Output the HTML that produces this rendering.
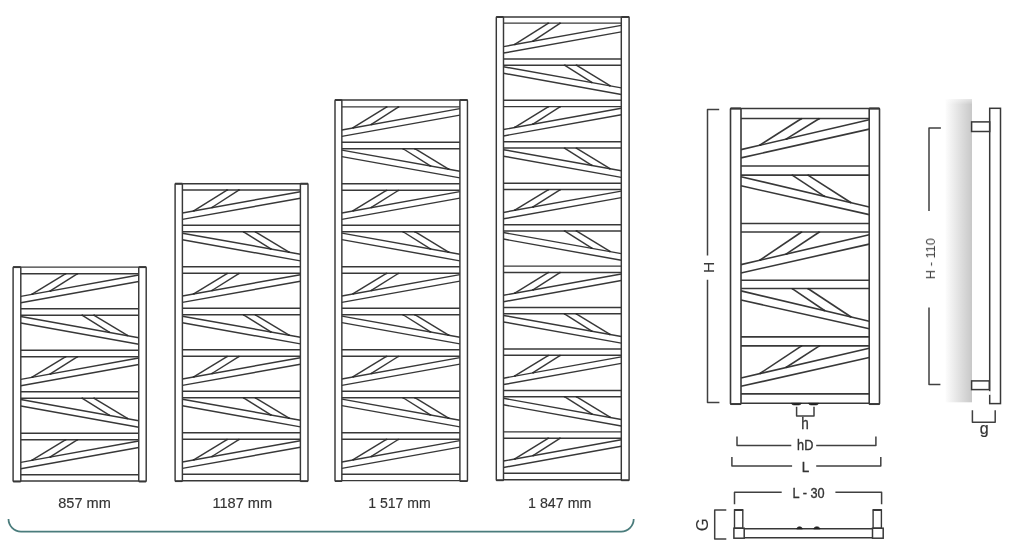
<!DOCTYPE html>
<html><head><meta charset="utf-8"><style>
html,body{margin:0;padding:0;background:#fff;width:1025px;height:552px;overflow:hidden}
svg{display:block}
text{font-family:"Liberation Sans",sans-serif}
</style></head><body>
<svg width="1025" height="552" viewBox="0 0 1025 552">
<line x1="20.8" y1="267.1" x2="138.75" y2="267.1" stroke="#383838" stroke-width="1.45"/>
<line x1="20.8" y1="273.7" x2="138.75" y2="273.7" stroke="#383838" stroke-width="1.45"/>
<line x1="20.8" y1="308.67" x2="138.75" y2="308.67" stroke="#383838" stroke-width="1.45"/>
<line x1="20.8" y1="315.17" x2="138.75" y2="315.17" stroke="#383838" stroke-width="1.45"/>
<line x1="20.8" y1="350.17" x2="138.75" y2="350.17" stroke="#383838" stroke-width="1.45"/>
<line x1="20.8" y1="356.67" x2="138.75" y2="356.67" stroke="#383838" stroke-width="1.45"/>
<line x1="20.8" y1="391.67" x2="138.75" y2="391.67" stroke="#383838" stroke-width="1.45"/>
<line x1="20.8" y1="398.17" x2="138.75" y2="398.17" stroke="#383838" stroke-width="1.45"/>
<line x1="20.8" y1="433.17" x2="138.75" y2="433.17" stroke="#383838" stroke-width="1.45"/>
<line x1="20.8" y1="439.67" x2="138.75" y2="439.67" stroke="#383838" stroke-width="1.45"/>
<line x1="20.8" y1="474.67" x2="138.75" y2="474.67" stroke="#383838" stroke-width="1.45"/>
<line x1="20.8" y1="480.92" x2="138.75" y2="480.92" stroke="#383838" stroke-width="1.45"/>
<line x1="20.8" y1="296.37" x2="138.75" y2="275.07" stroke="#383838" stroke-width="1.45"/>
<line x1="20.8" y1="302.77" x2="138.75" y2="281.57" stroke="#383838" stroke-width="1.45"/>
<line x1="31.7" y1="294.4" x2="65.8" y2="273.7" stroke="#383838" stroke-width="1.45"/>
<ellipse cx="32.3" cy="294.2" rx="1.2" ry="0.75" fill="#2a2a2a"/>
<ellipse cx="65.5" cy="273.85" rx="1.2" ry="0.75" fill="#2a2a2a"/>
<line x1="49.9" y1="291.11" x2="77.6" y2="273.7" stroke="#383838" stroke-width="1.45"/>
<ellipse cx="50.5" cy="290.91" rx="1.2" ry="0.75" fill="#2a2a2a"/>
<ellipse cx="77.3" cy="273.85" rx="1.2" ry="0.75" fill="#2a2a2a"/>
<line x1="20.8" y1="316.57" x2="138.75" y2="337.67" stroke="#383838" stroke-width="1.45"/>
<line x1="20.8" y1="323.07" x2="138.75" y2="344.27" stroke="#383838" stroke-width="1.45"/>
<line x1="127.85" y1="335.72" x2="93.75" y2="315.17" stroke="#383838" stroke-width="1.45"/>
<ellipse cx="127.25" cy="335.52" rx="1.2" ry="0.75" fill="#2a2a2a"/>
<ellipse cx="94.05" cy="315.32" rx="1.2" ry="0.75" fill="#2a2a2a"/>
<line x1="109.65" y1="332.46" x2="81.95" y2="315.17" stroke="#383838" stroke-width="1.45"/>
<ellipse cx="109.05" cy="332.26" rx="1.2" ry="0.75" fill="#2a2a2a"/>
<ellipse cx="82.25" cy="315.32" rx="1.2" ry="0.75" fill="#2a2a2a"/>
<line x1="20.8" y1="379.37" x2="138.75" y2="358.07" stroke="#383838" stroke-width="1.45"/>
<line x1="20.8" y1="385.77" x2="138.75" y2="364.57" stroke="#383838" stroke-width="1.45"/>
<line x1="31.7" y1="377.4" x2="65.8" y2="356.67" stroke="#383838" stroke-width="1.45"/>
<ellipse cx="32.3" cy="377.2" rx="1.2" ry="0.75" fill="#2a2a2a"/>
<ellipse cx="65.5" cy="356.82" rx="1.2" ry="0.75" fill="#2a2a2a"/>
<line x1="49.9" y1="374.11" x2="77.6" y2="356.67" stroke="#383838" stroke-width="1.45"/>
<ellipse cx="50.5" cy="373.91" rx="1.2" ry="0.75" fill="#2a2a2a"/>
<ellipse cx="77.3" cy="356.82" rx="1.2" ry="0.75" fill="#2a2a2a"/>
<line x1="20.8" y1="399.57" x2="138.75" y2="420.67" stroke="#383838" stroke-width="1.45"/>
<line x1="20.8" y1="406.07" x2="138.75" y2="427.27" stroke="#383838" stroke-width="1.45"/>
<line x1="127.85" y1="418.72" x2="93.75" y2="398.17" stroke="#383838" stroke-width="1.45"/>
<ellipse cx="127.25" cy="418.52" rx="1.2" ry="0.75" fill="#2a2a2a"/>
<ellipse cx="94.05" cy="398.32" rx="1.2" ry="0.75" fill="#2a2a2a"/>
<line x1="109.65" y1="415.46" x2="81.95" y2="398.17" stroke="#383838" stroke-width="1.45"/>
<ellipse cx="109.05" cy="415.26" rx="1.2" ry="0.75" fill="#2a2a2a"/>
<ellipse cx="82.25" cy="398.32" rx="1.2" ry="0.75" fill="#2a2a2a"/>
<line x1="20.8" y1="462.37" x2="138.75" y2="441.07" stroke="#383838" stroke-width="1.45"/>
<line x1="20.8" y1="468.77" x2="138.75" y2="447.57" stroke="#383838" stroke-width="1.45"/>
<line x1="31.7" y1="460.4" x2="65.8" y2="439.67" stroke="#383838" stroke-width="1.45"/>
<ellipse cx="32.3" cy="460.2" rx="1.2" ry="0.75" fill="#2a2a2a"/>
<ellipse cx="65.5" cy="439.82" rx="1.2" ry="0.75" fill="#2a2a2a"/>
<line x1="49.9" y1="457.11" x2="77.6" y2="439.67" stroke="#383838" stroke-width="1.45"/>
<ellipse cx="50.5" cy="456.91" rx="1.2" ry="0.75" fill="#2a2a2a"/>
<ellipse cx="77.3" cy="439.82" rx="1.2" ry="0.75" fill="#2a2a2a"/>
<rect x="13.1" y="267.1" width="7.7" height="214.32" rx="0.6" fill="none" stroke="#383838" stroke-width="1.45"/>
<rect x="138.75" y="267.1" width="7.45" height="214.32" rx="0.6" fill="none" stroke="#383838" stroke-width="1.45"/>
<line x1="13.1" y1="267.1" x2="20.8" y2="267.1" stroke="#383838" stroke-width="1.95"/>
<line x1="138.75" y1="267.1" x2="146.2" y2="267.1" stroke="#383838" stroke-width="1.95"/>
<line x1="13.1" y1="481.42" x2="20.8" y2="481.42" stroke="#383838" stroke-width="1.75"/>
<line x1="138.75" y1="481.42" x2="146.2" y2="481.42" stroke="#383838" stroke-width="1.75"/>
<line x1="182.4" y1="183.7" x2="300.4" y2="183.7" stroke="#383838" stroke-width="1.45"/>
<line x1="182.4" y1="189.9" x2="300.4" y2="189.9" stroke="#383838" stroke-width="1.45"/>
<line x1="182.4" y1="225.3" x2="300.4" y2="225.3" stroke="#383838" stroke-width="1.45"/>
<line x1="182.4" y1="231.8" x2="300.4" y2="231.8" stroke="#383838" stroke-width="1.45"/>
<line x1="182.4" y1="266.8" x2="300.4" y2="266.8" stroke="#383838" stroke-width="1.45"/>
<line x1="182.4" y1="273.3" x2="300.4" y2="273.3" stroke="#383838" stroke-width="1.45"/>
<line x1="182.4" y1="308.3" x2="300.4" y2="308.3" stroke="#383838" stroke-width="1.45"/>
<line x1="182.4" y1="314.8" x2="300.4" y2="314.8" stroke="#383838" stroke-width="1.45"/>
<line x1="182.4" y1="349.8" x2="300.4" y2="349.8" stroke="#383838" stroke-width="1.45"/>
<line x1="182.4" y1="356.3" x2="300.4" y2="356.3" stroke="#383838" stroke-width="1.45"/>
<line x1="182.4" y1="391.3" x2="300.4" y2="391.3" stroke="#383838" stroke-width="1.45"/>
<line x1="182.4" y1="397.8" x2="300.4" y2="397.8" stroke="#383838" stroke-width="1.45"/>
<line x1="182.4" y1="432.8" x2="300.4" y2="432.8" stroke="#383838" stroke-width="1.45"/>
<line x1="182.4" y1="439.3" x2="300.4" y2="439.3" stroke="#383838" stroke-width="1.45"/>
<line x1="182.4" y1="474.3" x2="300.4" y2="474.3" stroke="#383838" stroke-width="1.45"/>
<line x1="182.4" y1="480.7" x2="300.4" y2="480.7" stroke="#383838" stroke-width="1.45"/>
<line x1="182.4" y1="213" x2="300.4" y2="191.7" stroke="#383838" stroke-width="1.45"/>
<line x1="182.4" y1="219.4" x2="300.4" y2="198.2" stroke="#383838" stroke-width="1.45"/>
<line x1="193.3" y1="211.03" x2="227.4" y2="189.9" stroke="#383838" stroke-width="1.45"/>
<ellipse cx="193.9" cy="210.83" rx="1.2" ry="0.75" fill="#2a2a2a"/>
<ellipse cx="227.1" cy="190.05" rx="1.2" ry="0.75" fill="#2a2a2a"/>
<line x1="211.5" y1="207.75" x2="239.2" y2="189.9" stroke="#383838" stroke-width="1.45"/>
<ellipse cx="212.1" cy="207.55" rx="1.2" ry="0.75" fill="#2a2a2a"/>
<ellipse cx="238.9" cy="190.05" rx="1.2" ry="0.75" fill="#2a2a2a"/>
<line x1="182.4" y1="233.2" x2="300.4" y2="254.3" stroke="#383838" stroke-width="1.45"/>
<line x1="182.4" y1="239.7" x2="300.4" y2="260.9" stroke="#383838" stroke-width="1.45"/>
<line x1="289.5" y1="252.35" x2="255.4" y2="231.8" stroke="#383838" stroke-width="1.45"/>
<ellipse cx="288.9" cy="252.15" rx="1.2" ry="0.75" fill="#2a2a2a"/>
<ellipse cx="255.7" cy="231.95" rx="1.2" ry="0.75" fill="#2a2a2a"/>
<line x1="271.3" y1="249.1" x2="243.6" y2="231.8" stroke="#383838" stroke-width="1.45"/>
<ellipse cx="270.7" cy="248.9" rx="1.2" ry="0.75" fill="#2a2a2a"/>
<ellipse cx="243.9" cy="231.95" rx="1.2" ry="0.75" fill="#2a2a2a"/>
<line x1="182.4" y1="296" x2="300.4" y2="274.7" stroke="#383838" stroke-width="1.45"/>
<line x1="182.4" y1="302.4" x2="300.4" y2="281.2" stroke="#383838" stroke-width="1.45"/>
<line x1="193.3" y1="294.03" x2="227.4" y2="273.3" stroke="#383838" stroke-width="1.45"/>
<ellipse cx="193.9" cy="293.83" rx="1.2" ry="0.75" fill="#2a2a2a"/>
<ellipse cx="227.1" cy="273.45" rx="1.2" ry="0.75" fill="#2a2a2a"/>
<line x1="211.5" y1="290.75" x2="239.2" y2="273.3" stroke="#383838" stroke-width="1.45"/>
<ellipse cx="212.1" cy="290.55" rx="1.2" ry="0.75" fill="#2a2a2a"/>
<ellipse cx="238.9" cy="273.45" rx="1.2" ry="0.75" fill="#2a2a2a"/>
<line x1="182.4" y1="316.2" x2="300.4" y2="337.3" stroke="#383838" stroke-width="1.45"/>
<line x1="182.4" y1="322.7" x2="300.4" y2="343.9" stroke="#383838" stroke-width="1.45"/>
<line x1="289.5" y1="335.35" x2="255.4" y2="314.8" stroke="#383838" stroke-width="1.45"/>
<ellipse cx="288.9" cy="335.15" rx="1.2" ry="0.75" fill="#2a2a2a"/>
<ellipse cx="255.7" cy="314.95" rx="1.2" ry="0.75" fill="#2a2a2a"/>
<line x1="271.3" y1="332.1" x2="243.6" y2="314.8" stroke="#383838" stroke-width="1.45"/>
<ellipse cx="270.7" cy="331.9" rx="1.2" ry="0.75" fill="#2a2a2a"/>
<ellipse cx="243.9" cy="314.95" rx="1.2" ry="0.75" fill="#2a2a2a"/>
<line x1="182.4" y1="379" x2="300.4" y2="357.7" stroke="#383838" stroke-width="1.45"/>
<line x1="182.4" y1="385.4" x2="300.4" y2="364.2" stroke="#383838" stroke-width="1.45"/>
<line x1="193.3" y1="377.03" x2="227.4" y2="356.3" stroke="#383838" stroke-width="1.45"/>
<ellipse cx="193.9" cy="376.83" rx="1.2" ry="0.75" fill="#2a2a2a"/>
<ellipse cx="227.1" cy="356.45" rx="1.2" ry="0.75" fill="#2a2a2a"/>
<line x1="211.5" y1="373.75" x2="239.2" y2="356.3" stroke="#383838" stroke-width="1.45"/>
<ellipse cx="212.1" cy="373.55" rx="1.2" ry="0.75" fill="#2a2a2a"/>
<ellipse cx="238.9" cy="356.45" rx="1.2" ry="0.75" fill="#2a2a2a"/>
<line x1="182.4" y1="399.2" x2="300.4" y2="420.3" stroke="#383838" stroke-width="1.45"/>
<line x1="182.4" y1="405.7" x2="300.4" y2="426.9" stroke="#383838" stroke-width="1.45"/>
<line x1="289.5" y1="418.35" x2="255.4" y2="397.8" stroke="#383838" stroke-width="1.45"/>
<ellipse cx="288.9" cy="418.15" rx="1.2" ry="0.75" fill="#2a2a2a"/>
<ellipse cx="255.7" cy="397.95" rx="1.2" ry="0.75" fill="#2a2a2a"/>
<line x1="271.3" y1="415.1" x2="243.6" y2="397.8" stroke="#383838" stroke-width="1.45"/>
<ellipse cx="270.7" cy="414.9" rx="1.2" ry="0.75" fill="#2a2a2a"/>
<ellipse cx="243.9" cy="397.95" rx="1.2" ry="0.75" fill="#2a2a2a"/>
<line x1="182.4" y1="462" x2="300.4" y2="440.7" stroke="#383838" stroke-width="1.45"/>
<line x1="182.4" y1="468.4" x2="300.4" y2="447.2" stroke="#383838" stroke-width="1.45"/>
<line x1="193.3" y1="460.03" x2="227.4" y2="439.3" stroke="#383838" stroke-width="1.45"/>
<ellipse cx="193.9" cy="459.83" rx="1.2" ry="0.75" fill="#2a2a2a"/>
<ellipse cx="227.1" cy="439.45" rx="1.2" ry="0.75" fill="#2a2a2a"/>
<line x1="211.5" y1="456.75" x2="239.2" y2="439.3" stroke="#383838" stroke-width="1.45"/>
<ellipse cx="212.1" cy="456.55" rx="1.2" ry="0.75" fill="#2a2a2a"/>
<ellipse cx="238.9" cy="439.45" rx="1.2" ry="0.75" fill="#2a2a2a"/>
<rect x="175.1" y="183.7" width="7.3" height="297.5" rx="0.6" fill="none" stroke="#383838" stroke-width="1.45"/>
<rect x="300.4" y="183.7" width="7.6" height="297.5" rx="0.6" fill="none" stroke="#383838" stroke-width="1.45"/>
<line x1="175.1" y1="183.7" x2="182.4" y2="183.7" stroke="#383838" stroke-width="1.95"/>
<line x1="300.4" y1="183.7" x2="308" y2="183.7" stroke="#383838" stroke-width="1.95"/>
<line x1="175.1" y1="481.2" x2="182.4" y2="481.2" stroke="#383838" stroke-width="1.75"/>
<line x1="300.4" y1="481.2" x2="308" y2="481.2" stroke="#383838" stroke-width="1.75"/>
<line x1="341.85" y1="100.05" x2="459.9" y2="100.05" stroke="#383838" stroke-width="1.45"/>
<line x1="341.85" y1="106.85" x2="459.9" y2="106.85" stroke="#383838" stroke-width="1.45"/>
<line x1="341.85" y1="142.24" x2="459.9" y2="142.24" stroke="#383838" stroke-width="1.45"/>
<line x1="341.85" y1="148.74" x2="459.9" y2="148.74" stroke="#383838" stroke-width="1.45"/>
<line x1="341.85" y1="183.74" x2="459.9" y2="183.74" stroke="#383838" stroke-width="1.45"/>
<line x1="341.85" y1="190.24" x2="459.9" y2="190.24" stroke="#383838" stroke-width="1.45"/>
<line x1="341.85" y1="225.24" x2="459.9" y2="225.24" stroke="#383838" stroke-width="1.45"/>
<line x1="341.85" y1="231.74" x2="459.9" y2="231.74" stroke="#383838" stroke-width="1.45"/>
<line x1="341.85" y1="266.74" x2="459.9" y2="266.74" stroke="#383838" stroke-width="1.45"/>
<line x1="341.85" y1="273.24" x2="459.9" y2="273.24" stroke="#383838" stroke-width="1.45"/>
<line x1="341.85" y1="308.24" x2="459.9" y2="308.24" stroke="#383838" stroke-width="1.45"/>
<line x1="341.85" y1="314.74" x2="459.9" y2="314.74" stroke="#383838" stroke-width="1.45"/>
<line x1="341.85" y1="349.74" x2="459.9" y2="349.74" stroke="#383838" stroke-width="1.45"/>
<line x1="341.85" y1="356.24" x2="459.9" y2="356.24" stroke="#383838" stroke-width="1.45"/>
<line x1="341.85" y1="391.24" x2="459.9" y2="391.24" stroke="#383838" stroke-width="1.45"/>
<line x1="341.85" y1="397.74" x2="459.9" y2="397.74" stroke="#383838" stroke-width="1.45"/>
<line x1="341.85" y1="432.74" x2="459.9" y2="432.74" stroke="#383838" stroke-width="1.45"/>
<line x1="341.85" y1="439.24" x2="459.9" y2="439.24" stroke="#383838" stroke-width="1.45"/>
<line x1="341.85" y1="474.24" x2="459.9" y2="474.24" stroke="#383838" stroke-width="1.45"/>
<line x1="341.85" y1="480.64" x2="459.9" y2="480.64" stroke="#383838" stroke-width="1.45"/>
<line x1="341.85" y1="129.94" x2="459.9" y2="108.64" stroke="#383838" stroke-width="1.45"/>
<line x1="341.85" y1="136.34" x2="459.9" y2="115.14" stroke="#383838" stroke-width="1.45"/>
<line x1="352.75" y1="127.97" x2="386.85" y2="106.85" stroke="#383838" stroke-width="1.45"/>
<ellipse cx="353.35" cy="127.77" rx="1.2" ry="0.75" fill="#2a2a2a"/>
<ellipse cx="386.55" cy="107" rx="1.2" ry="0.75" fill="#2a2a2a"/>
<line x1="370.95" y1="124.69" x2="398.65" y2="106.85" stroke="#383838" stroke-width="1.45"/>
<ellipse cx="371.55" cy="124.49" rx="1.2" ry="0.75" fill="#2a2a2a"/>
<ellipse cx="398.35" cy="107" rx="1.2" ry="0.75" fill="#2a2a2a"/>
<line x1="341.85" y1="150.14" x2="459.9" y2="171.24" stroke="#383838" stroke-width="1.45"/>
<line x1="341.85" y1="156.64" x2="459.9" y2="177.84" stroke="#383838" stroke-width="1.45"/>
<line x1="449" y1="169.29" x2="414.9" y2="148.74" stroke="#383838" stroke-width="1.45"/>
<ellipse cx="448.4" cy="169.09" rx="1.2" ry="0.75" fill="#2a2a2a"/>
<ellipse cx="415.2" cy="148.89" rx="1.2" ry="0.75" fill="#2a2a2a"/>
<line x1="430.8" y1="166.04" x2="403.1" y2="148.74" stroke="#383838" stroke-width="1.45"/>
<ellipse cx="430.2" cy="165.84" rx="1.2" ry="0.75" fill="#2a2a2a"/>
<ellipse cx="403.4" cy="148.89" rx="1.2" ry="0.75" fill="#2a2a2a"/>
<line x1="341.85" y1="212.94" x2="459.9" y2="191.64" stroke="#383838" stroke-width="1.45"/>
<line x1="341.85" y1="219.34" x2="459.9" y2="198.14" stroke="#383838" stroke-width="1.45"/>
<line x1="352.75" y1="210.97" x2="386.85" y2="190.24" stroke="#383838" stroke-width="1.45"/>
<ellipse cx="353.35" cy="210.77" rx="1.2" ry="0.75" fill="#2a2a2a"/>
<ellipse cx="386.55" cy="190.39" rx="1.2" ry="0.75" fill="#2a2a2a"/>
<line x1="370.95" y1="207.69" x2="398.65" y2="190.24" stroke="#383838" stroke-width="1.45"/>
<ellipse cx="371.55" cy="207.49" rx="1.2" ry="0.75" fill="#2a2a2a"/>
<ellipse cx="398.35" cy="190.39" rx="1.2" ry="0.75" fill="#2a2a2a"/>
<line x1="341.85" y1="233.14" x2="459.9" y2="254.24" stroke="#383838" stroke-width="1.45"/>
<line x1="341.85" y1="239.64" x2="459.9" y2="260.84" stroke="#383838" stroke-width="1.45"/>
<line x1="449" y1="252.29" x2="414.9" y2="231.74" stroke="#383838" stroke-width="1.45"/>
<ellipse cx="448.4" cy="252.09" rx="1.2" ry="0.75" fill="#2a2a2a"/>
<ellipse cx="415.2" cy="231.89" rx="1.2" ry="0.75" fill="#2a2a2a"/>
<line x1="430.8" y1="249.04" x2="403.1" y2="231.74" stroke="#383838" stroke-width="1.45"/>
<ellipse cx="430.2" cy="248.84" rx="1.2" ry="0.75" fill="#2a2a2a"/>
<ellipse cx="403.4" cy="231.89" rx="1.2" ry="0.75" fill="#2a2a2a"/>
<line x1="341.85" y1="295.94" x2="459.9" y2="274.64" stroke="#383838" stroke-width="1.45"/>
<line x1="341.85" y1="302.34" x2="459.9" y2="281.14" stroke="#383838" stroke-width="1.45"/>
<line x1="352.75" y1="293.97" x2="386.85" y2="273.24" stroke="#383838" stroke-width="1.45"/>
<ellipse cx="353.35" cy="293.77" rx="1.2" ry="0.75" fill="#2a2a2a"/>
<ellipse cx="386.55" cy="273.39" rx="1.2" ry="0.75" fill="#2a2a2a"/>
<line x1="370.95" y1="290.69" x2="398.65" y2="273.24" stroke="#383838" stroke-width="1.45"/>
<ellipse cx="371.55" cy="290.49" rx="1.2" ry="0.75" fill="#2a2a2a"/>
<ellipse cx="398.35" cy="273.39" rx="1.2" ry="0.75" fill="#2a2a2a"/>
<line x1="341.85" y1="316.14" x2="459.9" y2="337.24" stroke="#383838" stroke-width="1.45"/>
<line x1="341.85" y1="322.64" x2="459.9" y2="343.84" stroke="#383838" stroke-width="1.45"/>
<line x1="449" y1="335.29" x2="414.9" y2="314.74" stroke="#383838" stroke-width="1.45"/>
<ellipse cx="448.4" cy="335.09" rx="1.2" ry="0.75" fill="#2a2a2a"/>
<ellipse cx="415.2" cy="314.89" rx="1.2" ry="0.75" fill="#2a2a2a"/>
<line x1="430.8" y1="332.04" x2="403.1" y2="314.74" stroke="#383838" stroke-width="1.45"/>
<ellipse cx="430.2" cy="331.84" rx="1.2" ry="0.75" fill="#2a2a2a"/>
<ellipse cx="403.4" cy="314.89" rx="1.2" ry="0.75" fill="#2a2a2a"/>
<line x1="341.85" y1="378.94" x2="459.9" y2="357.64" stroke="#383838" stroke-width="1.45"/>
<line x1="341.85" y1="385.34" x2="459.9" y2="364.14" stroke="#383838" stroke-width="1.45"/>
<line x1="352.75" y1="376.97" x2="386.85" y2="356.24" stroke="#383838" stroke-width="1.45"/>
<ellipse cx="353.35" cy="376.77" rx="1.2" ry="0.75" fill="#2a2a2a"/>
<ellipse cx="386.55" cy="356.39" rx="1.2" ry="0.75" fill="#2a2a2a"/>
<line x1="370.95" y1="373.69" x2="398.65" y2="356.24" stroke="#383838" stroke-width="1.45"/>
<ellipse cx="371.55" cy="373.49" rx="1.2" ry="0.75" fill="#2a2a2a"/>
<ellipse cx="398.35" cy="356.39" rx="1.2" ry="0.75" fill="#2a2a2a"/>
<line x1="341.85" y1="399.14" x2="459.9" y2="420.24" stroke="#383838" stroke-width="1.45"/>
<line x1="341.85" y1="405.64" x2="459.9" y2="426.84" stroke="#383838" stroke-width="1.45"/>
<line x1="449" y1="418.29" x2="414.9" y2="397.74" stroke="#383838" stroke-width="1.45"/>
<ellipse cx="448.4" cy="418.09" rx="1.2" ry="0.75" fill="#2a2a2a"/>
<ellipse cx="415.2" cy="397.89" rx="1.2" ry="0.75" fill="#2a2a2a"/>
<line x1="430.8" y1="415.04" x2="403.1" y2="397.74" stroke="#383838" stroke-width="1.45"/>
<ellipse cx="430.2" cy="414.84" rx="1.2" ry="0.75" fill="#2a2a2a"/>
<ellipse cx="403.4" cy="397.89" rx="1.2" ry="0.75" fill="#2a2a2a"/>
<line x1="341.85" y1="461.94" x2="459.9" y2="440.64" stroke="#383838" stroke-width="1.45"/>
<line x1="341.85" y1="468.34" x2="459.9" y2="447.14" stroke="#383838" stroke-width="1.45"/>
<line x1="352.75" y1="459.97" x2="386.85" y2="439.24" stroke="#383838" stroke-width="1.45"/>
<ellipse cx="353.35" cy="459.77" rx="1.2" ry="0.75" fill="#2a2a2a"/>
<ellipse cx="386.55" cy="439.39" rx="1.2" ry="0.75" fill="#2a2a2a"/>
<line x1="370.95" y1="456.69" x2="398.65" y2="439.24" stroke="#383838" stroke-width="1.45"/>
<ellipse cx="371.55" cy="456.49" rx="1.2" ry="0.75" fill="#2a2a2a"/>
<ellipse cx="398.35" cy="439.39" rx="1.2" ry="0.75" fill="#2a2a2a"/>
<rect x="335" y="100.05" width="6.85" height="381.09" rx="0.6" fill="none" stroke="#383838" stroke-width="1.45"/>
<rect x="459.9" y="100.05" width="7.55" height="381.09" rx="0.6" fill="none" stroke="#383838" stroke-width="1.45"/>
<line x1="335" y1="100.05" x2="341.85" y2="100.05" stroke="#383838" stroke-width="1.95"/>
<line x1="459.9" y1="100.05" x2="467.45" y2="100.05" stroke="#383838" stroke-width="1.95"/>
<line x1="335" y1="481.14" x2="341.85" y2="481.14" stroke="#383838" stroke-width="1.75"/>
<line x1="459.9" y1="481.14" x2="467.45" y2="481.14" stroke="#383838" stroke-width="1.75"/>
<line x1="503.5" y1="17" x2="621.3" y2="17" stroke="#383838" stroke-width="1.45"/>
<line x1="503.5" y1="23.1" x2="621.3" y2="23.1" stroke="#383838" stroke-width="1.45"/>
<line x1="503.5" y1="58.9" x2="621.3" y2="58.9" stroke="#383838" stroke-width="1.45"/>
<line x1="503.5" y1="65.2" x2="621.3" y2="65.2" stroke="#383838" stroke-width="1.45"/>
<line x1="503.5" y1="100.34" x2="621.3" y2="100.34" stroke="#383838" stroke-width="1.45"/>
<line x1="503.5" y1="106.64" x2="621.3" y2="106.64" stroke="#383838" stroke-width="1.45"/>
<line x1="503.5" y1="141.78" x2="621.3" y2="141.78" stroke="#383838" stroke-width="1.45"/>
<line x1="503.5" y1="148.08" x2="621.3" y2="148.08" stroke="#383838" stroke-width="1.45"/>
<line x1="503.5" y1="183.22" x2="621.3" y2="183.22" stroke="#383838" stroke-width="1.45"/>
<line x1="503.5" y1="189.52" x2="621.3" y2="189.52" stroke="#383838" stroke-width="1.45"/>
<line x1="503.5" y1="224.66" x2="621.3" y2="224.66" stroke="#383838" stroke-width="1.45"/>
<line x1="503.5" y1="230.96" x2="621.3" y2="230.96" stroke="#383838" stroke-width="1.45"/>
<line x1="503.5" y1="266.1" x2="621.3" y2="266.1" stroke="#383838" stroke-width="1.45"/>
<line x1="503.5" y1="272.4" x2="621.3" y2="272.4" stroke="#383838" stroke-width="1.45"/>
<line x1="503.5" y1="307.54" x2="621.3" y2="307.54" stroke="#383838" stroke-width="1.45"/>
<line x1="503.5" y1="313.84" x2="621.3" y2="313.84" stroke="#383838" stroke-width="1.45"/>
<line x1="503.5" y1="348.98" x2="621.3" y2="348.98" stroke="#383838" stroke-width="1.45"/>
<line x1="503.5" y1="355.28" x2="621.3" y2="355.28" stroke="#383838" stroke-width="1.45"/>
<line x1="503.5" y1="390.42" x2="621.3" y2="390.42" stroke="#383838" stroke-width="1.45"/>
<line x1="503.5" y1="396.72" x2="621.3" y2="396.72" stroke="#383838" stroke-width="1.45"/>
<line x1="503.5" y1="431.86" x2="621.3" y2="431.86" stroke="#383838" stroke-width="1.45"/>
<line x1="503.5" y1="438.16" x2="621.3" y2="438.16" stroke="#383838" stroke-width="1.45"/>
<line x1="503.5" y1="473.3" x2="621.3" y2="473.3" stroke="#383838" stroke-width="1.45"/>
<line x1="503.5" y1="479.8" x2="621.3" y2="479.8" stroke="#383838" stroke-width="1.45"/>
<line x1="503.5" y1="46.66" x2="621.3" y2="25.36" stroke="#383838" stroke-width="1.45"/>
<line x1="503.5" y1="53.06" x2="621.3" y2="31.86" stroke="#383838" stroke-width="1.45"/>
<line x1="514.4" y1="44.69" x2="548.5" y2="23.1" stroke="#383838" stroke-width="1.45"/>
<ellipse cx="515" cy="44.49" rx="1.2" ry="0.75" fill="#2a2a2a"/>
<ellipse cx="548.2" cy="23.25" rx="1.2" ry="0.75" fill="#2a2a2a"/>
<line x1="532.6" y1="41.4" x2="560.3" y2="23.1" stroke="#383838" stroke-width="1.45"/>
<ellipse cx="533.2" cy="41.2" rx="1.2" ry="0.75" fill="#2a2a2a"/>
<ellipse cx="560" cy="23.25" rx="1.2" ry="0.75" fill="#2a2a2a"/>
<line x1="503.5" y1="66.8" x2="621.3" y2="87.9" stroke="#383838" stroke-width="1.45"/>
<line x1="503.5" y1="73.3" x2="621.3" y2="94.5" stroke="#383838" stroke-width="1.45"/>
<line x1="610.4" y1="85.95" x2="576.3" y2="65.2" stroke="#383838" stroke-width="1.45"/>
<ellipse cx="609.8" cy="85.75" rx="1.2" ry="0.75" fill="#2a2a2a"/>
<ellipse cx="576.6" cy="65.35" rx="1.2" ry="0.75" fill="#2a2a2a"/>
<line x1="592.2" y1="82.69" x2="564.5" y2="65.2" stroke="#383838" stroke-width="1.45"/>
<ellipse cx="591.6" cy="82.49" rx="1.2" ry="0.75" fill="#2a2a2a"/>
<ellipse cx="564.8" cy="65.35" rx="1.2" ry="0.75" fill="#2a2a2a"/>
<line x1="503.5" y1="129.54" x2="621.3" y2="108.24" stroke="#383838" stroke-width="1.45"/>
<line x1="503.5" y1="135.94" x2="621.3" y2="114.74" stroke="#383838" stroke-width="1.45"/>
<line x1="514.4" y1="127.57" x2="548.5" y2="106.64" stroke="#383838" stroke-width="1.45"/>
<ellipse cx="515" cy="127.37" rx="1.2" ry="0.75" fill="#2a2a2a"/>
<ellipse cx="548.2" cy="106.79" rx="1.2" ry="0.75" fill="#2a2a2a"/>
<line x1="532.6" y1="124.28" x2="560.3" y2="106.64" stroke="#383838" stroke-width="1.45"/>
<ellipse cx="533.2" cy="124.08" rx="1.2" ry="0.75" fill="#2a2a2a"/>
<ellipse cx="560" cy="106.79" rx="1.2" ry="0.75" fill="#2a2a2a"/>
<line x1="503.5" y1="149.68" x2="621.3" y2="170.78" stroke="#383838" stroke-width="1.45"/>
<line x1="503.5" y1="156.18" x2="621.3" y2="177.38" stroke="#383838" stroke-width="1.45"/>
<line x1="610.4" y1="168.83" x2="576.3" y2="148.08" stroke="#383838" stroke-width="1.45"/>
<ellipse cx="609.8" cy="168.63" rx="1.2" ry="0.75" fill="#2a2a2a"/>
<ellipse cx="576.6" cy="148.23" rx="1.2" ry="0.75" fill="#2a2a2a"/>
<line x1="592.2" y1="165.57" x2="564.5" y2="148.08" stroke="#383838" stroke-width="1.45"/>
<ellipse cx="591.6" cy="165.37" rx="1.2" ry="0.75" fill="#2a2a2a"/>
<ellipse cx="564.8" cy="148.23" rx="1.2" ry="0.75" fill="#2a2a2a"/>
<line x1="503.5" y1="212.42" x2="621.3" y2="191.12" stroke="#383838" stroke-width="1.45"/>
<line x1="503.5" y1="218.82" x2="621.3" y2="197.62" stroke="#383838" stroke-width="1.45"/>
<line x1="514.4" y1="210.45" x2="548.5" y2="189.52" stroke="#383838" stroke-width="1.45"/>
<ellipse cx="515" cy="210.25" rx="1.2" ry="0.75" fill="#2a2a2a"/>
<ellipse cx="548.2" cy="189.67" rx="1.2" ry="0.75" fill="#2a2a2a"/>
<line x1="532.6" y1="207.16" x2="560.3" y2="189.52" stroke="#383838" stroke-width="1.45"/>
<ellipse cx="533.2" cy="206.96" rx="1.2" ry="0.75" fill="#2a2a2a"/>
<ellipse cx="560" cy="189.67" rx="1.2" ry="0.75" fill="#2a2a2a"/>
<line x1="503.5" y1="232.56" x2="621.3" y2="253.66" stroke="#383838" stroke-width="1.45"/>
<line x1="503.5" y1="239.06" x2="621.3" y2="260.26" stroke="#383838" stroke-width="1.45"/>
<line x1="610.4" y1="251.71" x2="576.3" y2="230.96" stroke="#383838" stroke-width="1.45"/>
<ellipse cx="609.8" cy="251.51" rx="1.2" ry="0.75" fill="#2a2a2a"/>
<ellipse cx="576.6" cy="231.11" rx="1.2" ry="0.75" fill="#2a2a2a"/>
<line x1="592.2" y1="248.45" x2="564.5" y2="230.96" stroke="#383838" stroke-width="1.45"/>
<ellipse cx="591.6" cy="248.25" rx="1.2" ry="0.75" fill="#2a2a2a"/>
<ellipse cx="564.8" cy="231.11" rx="1.2" ry="0.75" fill="#2a2a2a"/>
<line x1="503.5" y1="295.3" x2="621.3" y2="274" stroke="#383838" stroke-width="1.45"/>
<line x1="503.5" y1="301.7" x2="621.3" y2="280.5" stroke="#383838" stroke-width="1.45"/>
<line x1="514.4" y1="293.33" x2="548.5" y2="272.4" stroke="#383838" stroke-width="1.45"/>
<ellipse cx="515" cy="293.13" rx="1.2" ry="0.75" fill="#2a2a2a"/>
<ellipse cx="548.2" cy="272.55" rx="1.2" ry="0.75" fill="#2a2a2a"/>
<line x1="532.6" y1="290.04" x2="560.3" y2="272.4" stroke="#383838" stroke-width="1.45"/>
<ellipse cx="533.2" cy="289.84" rx="1.2" ry="0.75" fill="#2a2a2a"/>
<ellipse cx="560" cy="272.55" rx="1.2" ry="0.75" fill="#2a2a2a"/>
<line x1="503.5" y1="315.44" x2="621.3" y2="336.54" stroke="#383838" stroke-width="1.45"/>
<line x1="503.5" y1="321.94" x2="621.3" y2="343.14" stroke="#383838" stroke-width="1.45"/>
<line x1="610.4" y1="334.59" x2="576.3" y2="313.84" stroke="#383838" stroke-width="1.45"/>
<ellipse cx="609.8" cy="334.39" rx="1.2" ry="0.75" fill="#2a2a2a"/>
<ellipse cx="576.6" cy="313.99" rx="1.2" ry="0.75" fill="#2a2a2a"/>
<line x1="592.2" y1="331.33" x2="564.5" y2="313.84" stroke="#383838" stroke-width="1.45"/>
<ellipse cx="591.6" cy="331.13" rx="1.2" ry="0.75" fill="#2a2a2a"/>
<ellipse cx="564.8" cy="313.99" rx="1.2" ry="0.75" fill="#2a2a2a"/>
<line x1="503.5" y1="378.18" x2="621.3" y2="356.88" stroke="#383838" stroke-width="1.45"/>
<line x1="503.5" y1="384.58" x2="621.3" y2="363.38" stroke="#383838" stroke-width="1.45"/>
<line x1="514.4" y1="376.21" x2="548.5" y2="355.28" stroke="#383838" stroke-width="1.45"/>
<ellipse cx="515" cy="376.01" rx="1.2" ry="0.75" fill="#2a2a2a"/>
<ellipse cx="548.2" cy="355.43" rx="1.2" ry="0.75" fill="#2a2a2a"/>
<line x1="532.6" y1="372.92" x2="560.3" y2="355.28" stroke="#383838" stroke-width="1.45"/>
<ellipse cx="533.2" cy="372.72" rx="1.2" ry="0.75" fill="#2a2a2a"/>
<ellipse cx="560" cy="355.43" rx="1.2" ry="0.75" fill="#2a2a2a"/>
<line x1="503.5" y1="398.32" x2="621.3" y2="419.42" stroke="#383838" stroke-width="1.45"/>
<line x1="503.5" y1="404.82" x2="621.3" y2="426.02" stroke="#383838" stroke-width="1.45"/>
<line x1="610.4" y1="417.47" x2="576.3" y2="396.72" stroke="#383838" stroke-width="1.45"/>
<ellipse cx="609.8" cy="417.27" rx="1.2" ry="0.75" fill="#2a2a2a"/>
<ellipse cx="576.6" cy="396.87" rx="1.2" ry="0.75" fill="#2a2a2a"/>
<line x1="592.2" y1="414.21" x2="564.5" y2="396.72" stroke="#383838" stroke-width="1.45"/>
<ellipse cx="591.6" cy="414.01" rx="1.2" ry="0.75" fill="#2a2a2a"/>
<ellipse cx="564.8" cy="396.87" rx="1.2" ry="0.75" fill="#2a2a2a"/>
<line x1="503.5" y1="461.06" x2="621.3" y2="439.76" stroke="#383838" stroke-width="1.45"/>
<line x1="503.5" y1="467.46" x2="621.3" y2="446.26" stroke="#383838" stroke-width="1.45"/>
<line x1="514.4" y1="459.09" x2="548.5" y2="438.16" stroke="#383838" stroke-width="1.45"/>
<ellipse cx="515" cy="458.89" rx="1.2" ry="0.75" fill="#2a2a2a"/>
<ellipse cx="548.2" cy="438.31" rx="1.2" ry="0.75" fill="#2a2a2a"/>
<line x1="532.6" y1="455.8" x2="560.3" y2="438.16" stroke="#383838" stroke-width="1.45"/>
<ellipse cx="533.2" cy="455.6" rx="1.2" ry="0.75" fill="#2a2a2a"/>
<ellipse cx="560" cy="438.31" rx="1.2" ry="0.75" fill="#2a2a2a"/>
<rect x="496.3" y="17" width="7.2" height="463.3" rx="0.6" fill="none" stroke="#383838" stroke-width="1.45"/>
<rect x="621.3" y="17" width="7.8" height="463.3" rx="0.6" fill="none" stroke="#383838" stroke-width="1.45"/>
<line x1="496.3" y1="17" x2="503.5" y2="17" stroke="#383838" stroke-width="1.95"/>
<line x1="621.3" y1="17" x2="629.1" y2="17" stroke="#383838" stroke-width="1.95"/>
<line x1="496.3" y1="480.3" x2="503.5" y2="480.3" stroke="#383838" stroke-width="1.75"/>
<line x1="621.3" y1="480.3" x2="629.1" y2="480.3" stroke="#383838" stroke-width="1.75"/>
<line x1="741" y1="108.5" x2="869.2" y2="108.5" stroke="#383838" stroke-width="1.6"/>
<line x1="741" y1="118.5" x2="869.2" y2="118.5" stroke="#383838" stroke-width="1.6"/>
<line x1="741" y1="166.05" x2="869.2" y2="166.05" stroke="#383838" stroke-width="1.6"/>
<line x1="741" y1="175.1" x2="869.2" y2="175.1" stroke="#383838" stroke-width="1.6"/>
<line x1="741" y1="223.52" x2="869.2" y2="223.52" stroke="#383838" stroke-width="1.6"/>
<line x1="741" y1="231.99" x2="869.2" y2="231.99" stroke="#383838" stroke-width="1.6"/>
<line x1="741" y1="280.24" x2="869.2" y2="280.24" stroke="#383838" stroke-width="1.6"/>
<line x1="741" y1="288.54" x2="869.2" y2="288.54" stroke="#383838" stroke-width="1.6"/>
<line x1="741" y1="336.89" x2="869.2" y2="336.89" stroke="#383838" stroke-width="1.6"/>
<line x1="741" y1="345.86" x2="869.2" y2="345.86" stroke="#383838" stroke-width="1.6"/>
<line x1="741" y1="393.89" x2="869.2" y2="393.89" stroke="#383838" stroke-width="1.6"/>
<line x1="741" y1="403.19" x2="869.2" y2="403.19" stroke="#383838" stroke-width="1.6"/>
<line x1="741" y1="149.6" x2="869.2" y2="119.8" stroke="#383838" stroke-width="1.6"/>
<line x1="741" y1="157.9" x2="869.2" y2="129.1" stroke="#383838" stroke-width="1.6"/>
<line x1="759.7" y1="145.25" x2="801.6" y2="118.5" stroke="#383838" stroke-width="1.6"/>
<ellipse cx="760.3" cy="145.05" rx="1.2" ry="0.75" fill="#2a2a2a"/>
<ellipse cx="801.3" cy="118.65" rx="1.2" ry="0.75" fill="#2a2a2a"/>
<line x1="786" y1="139.14" x2="819.4" y2="118.5" stroke="#383838" stroke-width="1.6"/>
<ellipse cx="786.6" cy="138.94" rx="1.2" ry="0.75" fill="#2a2a2a"/>
<ellipse cx="819.1" cy="118.65" rx="1.2" ry="0.75" fill="#2a2a2a"/>
<line x1="741" y1="176.7" x2="869.2" y2="207.05" stroke="#383838" stroke-width="1.6"/>
<line x1="741" y1="185.8" x2="869.2" y2="214.65" stroke="#383838" stroke-width="1.6"/>
<line x1="851.1" y1="202.77" x2="807.9" y2="175.1" stroke="#383838" stroke-width="1.6"/>
<ellipse cx="850.5" cy="202.57" rx="1.2" ry="0.75" fill="#2a2a2a"/>
<ellipse cx="808.2" cy="175.25" rx="1.2" ry="0.75" fill="#2a2a2a"/>
<line x1="824.85" y1="196.55" x2="792.2" y2="175.1" stroke="#383838" stroke-width="1.6"/>
<ellipse cx="824.25" cy="196.35" rx="1.2" ry="0.75" fill="#2a2a2a"/>
<ellipse cx="792.5" cy="175.25" rx="1.2" ry="0.75" fill="#2a2a2a"/>
<line x1="741" y1="264.62" x2="869.2" y2="234.82" stroke="#383838" stroke-width="1.6"/>
<line x1="741" y1="272.92" x2="869.2" y2="244.12" stroke="#383838" stroke-width="1.6"/>
<line x1="759.7" y1="260.27" x2="801.6" y2="231.99" stroke="#383838" stroke-width="1.6"/>
<ellipse cx="760.3" cy="260.07" rx="1.2" ry="0.75" fill="#2a2a2a"/>
<ellipse cx="801.3" cy="232.14" rx="1.2" ry="0.75" fill="#2a2a2a"/>
<line x1="786" y1="254.16" x2="819.4" y2="231.99" stroke="#383838" stroke-width="1.6"/>
<ellipse cx="786.6" cy="253.96" rx="1.2" ry="0.75" fill="#2a2a2a"/>
<ellipse cx="819.1" cy="232.14" rx="1.2" ry="0.75" fill="#2a2a2a"/>
<line x1="741" y1="290.89" x2="869.2" y2="321.24" stroke="#383838" stroke-width="1.6"/>
<line x1="741" y1="299.99" x2="869.2" y2="328.84" stroke="#383838" stroke-width="1.6"/>
<line x1="851.1" y1="316.96" x2="807.9" y2="288.54" stroke="#383838" stroke-width="1.6"/>
<ellipse cx="850.5" cy="316.76" rx="1.2" ry="0.75" fill="#2a2a2a"/>
<ellipse cx="808.2" cy="288.69" rx="1.2" ry="0.75" fill="#2a2a2a"/>
<line x1="824.85" y1="310.74" x2="792.2" y2="288.54" stroke="#383838" stroke-width="1.6"/>
<ellipse cx="824.25" cy="310.54" rx="1.2" ry="0.75" fill="#2a2a2a"/>
<ellipse cx="792.5" cy="288.69" rx="1.2" ry="0.75" fill="#2a2a2a"/>
<line x1="741" y1="377.99" x2="869.2" y2="348.19" stroke="#383838" stroke-width="1.6"/>
<line x1="741" y1="386.29" x2="869.2" y2="357.49" stroke="#383838" stroke-width="1.6"/>
<line x1="759.7" y1="373.64" x2="801.6" y2="345.86" stroke="#383838" stroke-width="1.6"/>
<ellipse cx="760.3" cy="373.44" rx="1.2" ry="0.75" fill="#2a2a2a"/>
<ellipse cx="801.3" cy="346.01" rx="1.2" ry="0.75" fill="#2a2a2a"/>
<line x1="786" y1="367.53" x2="819.4" y2="345.86" stroke="#383838" stroke-width="1.6"/>
<ellipse cx="786.6" cy="367.33" rx="1.2" ry="0.75" fill="#2a2a2a"/>
<ellipse cx="819.1" cy="346.01" rx="1.2" ry="0.75" fill="#2a2a2a"/>
<rect x="730.5" y="108.5" width="10.5" height="295.59" rx="0.6" fill="none" stroke="#383838" stroke-width="1.6"/>
<rect x="869.2" y="108.5" width="10.3" height="295.59" rx="0.6" fill="none" stroke="#383838" stroke-width="1.6"/>
<line x1="730.5" y1="108.5" x2="741" y2="108.5" stroke="#383838" stroke-width="2.1"/>
<line x1="869.2" y1="108.5" x2="879.5" y2="108.5" stroke="#383838" stroke-width="2.1"/>
<line x1="730.5" y1="404.09" x2="741" y2="404.09" stroke="#383838" stroke-width="1.9"/>
<line x1="869.2" y1="404.09" x2="879.5" y2="404.09" stroke="#383838" stroke-width="1.9"/>
<polyline points="719.2,109.6 707.5,109.6 707.5,255.4" fill="none" stroke="#404040" stroke-width="1.5" stroke-linejoin="round"/>
<polyline points="707.5,279.8 707.5,402.6 719.4,402.6" fill="none" stroke="#404040" stroke-width="1.5" stroke-linejoin="round"/>
<path d="M791.2,403.3 L801.4,403.3 Q800.6,404.9 798.8,404.9 L793.8,404.9 Q792,404.9 791.2,403.3 Z" fill="#222" stroke="#222" stroke-width="0.7"/>
<path d="M808.3,403.3 L818.8,403.3 Q818,404.9 816.2,404.9 L810.9,404.9 Q809.1,404.9 808.3,403.3 Z" fill="#222" stroke="#222" stroke-width="0.7"/>
<polyline points="796.6,406.7 796.6,415.9 814,415.9 814,406.7" fill="none" stroke="#404040" stroke-width="1.5" stroke-linejoin="round"/>
<polyline points="737,436.5 737,445.6 791.3,445.6" fill="none" stroke="#404040" stroke-width="1.5" stroke-linejoin="round"/>
<polyline points="816.2,445.6 875.9,445.6 875.9,436.5" fill="none" stroke="#404040" stroke-width="1.5" stroke-linejoin="round"/>
<polyline points="731.9,456.9 731.9,466 792.1,466" fill="none" stroke="#404040" stroke-width="1.5" stroke-linejoin="round"/>
<polyline points="816.2,466 880.8,466 880.8,456.9" fill="none" stroke="#404040" stroke-width="1.5" stroke-linejoin="round"/>
<polyline points="734.5,504.3 734.5,492.2 781.7,492.2" fill="none" stroke="#404040" stroke-width="1.5" stroke-linejoin="round"/>
<polyline points="835.4,492.2 881.6,492.2 881.6,504.3" fill="none" stroke="#404040" stroke-width="1.5" stroke-linejoin="round"/>
<polyline points="726.3,509.9 714.7,509.9 714.7,539.1 726.3,539.1" fill="none" stroke="#404040" stroke-width="1.5" stroke-linejoin="round"/>
<line x1="744.2" y1="528.8" x2="872.5" y2="528.8" stroke="#383838" stroke-width="1.6"/>
<line x1="744.2" y1="537.8" x2="872.5" y2="537.8" stroke="#383838" stroke-width="1.6"/>
<rect x="734.5" y="510" width="8.3" height="18.2" fill="none" stroke="#383838" stroke-width="1.4"/>
<line x1="734.2" y1="510" x2="743.1" y2="510" stroke="#383838" stroke-width="2"/>
<rect x="733.9" y="528.2" width="10.3" height="10" fill="none" stroke="#383838" stroke-width="1.5"/>
<rect x="873.1" y="510" width="8.3" height="18.2" fill="none" stroke="#383838" stroke-width="1.4"/>
<line x1="872.8" y1="510" x2="881.7" y2="510" stroke="#383838" stroke-width="2"/>
<rect x="872.5" y="528.2" width="10.7" height="10" fill="none" stroke="#383838" stroke-width="1.5"/>
<path d="M796.6,529 C797.3,525.9 801.8,525.9 802.5,529 Z" fill="#222" stroke="#222" stroke-width="0.6"/>
<path d="M813.6,529 C814.3,525.9 819.4,525.9 820.1,529 Z" fill="#222" stroke="#222" stroke-width="0.6"/>
<defs><linearGradient id="wall" x1="0" y1="0" x2="1" y2="0"><stop offset="0" stop-color="#fcfcfc"/><stop offset="0.25" stop-color="#efefef"/><stop offset="0.5" stop-color="#e2e2e2"/><stop offset="0.75" stop-color="#d5d5d5"/><stop offset="1" stop-color="#c8c8c8"/></linearGradient><linearGradient id="wallfade" x1="0" y1="0" x2="0" y2="1"><stop offset="0" stop-color="#fff" stop-opacity="0.55"/><stop offset="1" stop-color="#fff" stop-opacity="0"/></linearGradient></defs>
<rect x="945.8" y="99" width="26.2" height="303.3" fill="url(#wall)"/>
<rect x="945.6" y="98.5" width="26.5" height="6" fill="url(#wallfade)"/>
<rect x="989.7" y="108.3" width="10.8" height="295.3" fill="none" stroke="#383838" stroke-width="1.5"/>
<rect x="971.6" y="121.9" width="18.1" height="9.6" fill="none" stroke="#383838" stroke-width="1.5"/>
<rect x="971.6" y="380.9" width="17.7" height="8.7" fill="none" stroke="#383838" stroke-width="1.5"/>
<rect x="988.6" y="391.2" width="2.2" height="3.6" fill="#fff"/>
<polyline points="940.9,127.9 929,127.9 929,211" fill="none" stroke="#404040" stroke-width="1.5" stroke-linejoin="round"/>
<polyline points="929,307.6 929,384.6 940.4,384.6" fill="none" stroke="#404040" stroke-width="1.5" stroke-linejoin="round"/>
<polyline points="972.4,410.2 972.4,422.2 995.2,422.2 995.2,410.2" fill="none" stroke="#404040" stroke-width="1.5" stroke-linejoin="round"/>
<path d="M8.5,519 A12.5,12.5 0 0 0 21,531.5 L621.2,531.5 A12.5,12.5 0 0 0 633.7,519" fill="none" stroke="#4a7c7c" stroke-width="1.75"/>
<g style="will-change:transform"><text x="0" y="0" font-size="14.2" text-anchor="middle" fill="#333" stroke="#333" stroke-width="0.15" textLength="52.5" lengthAdjust="spacingAndGlyphs" transform="translate(84.5 508.3) scale(1 1.04)">857 mm</text><text x="0" y="0" font-size="14.2" text-anchor="middle" fill="#333" stroke="#333" stroke-width="0.15" textLength="59.8" lengthAdjust="spacingAndGlyphs" transform="translate(242.3 508.3) scale(1 1.04)">1187 mm</text><text x="0" y="0" font-size="14.2" text-anchor="middle" fill="#333" stroke="#333" stroke-width="0.15" textLength="62.6" lengthAdjust="spacingAndGlyphs" transform="translate(399.5 508.3) scale(1 1.04)">1 517 mm</text><text x="0" y="0" font-size="14.2" text-anchor="middle" fill="#333" stroke="#333" stroke-width="0.15" textLength="63.4" lengthAdjust="spacingAndGlyphs" transform="translate(559.7 508.3) scale(1 1.04)">1 847 mm</text><text x="713.6" y="267.4" font-size="15.5" text-anchor="middle" fill="#3a3a3a" stroke="#3a3a3a" stroke-width="0.1" transform="rotate(-90 713.6 267.4)">H</text><text x="0" y="0" font-size="13.5" text-anchor="middle" fill="#333" stroke="#333" stroke-width="0.3" transform="translate(805 428.8) scale(1 1.18)">h</text><text x="0" y="0" font-size="13.8" text-anchor="middle" fill="#333" stroke="#333" stroke-width="0.35" textLength="16.2" lengthAdjust="spacingAndGlyphs" transform="translate(805.2 450.1) scale(1 1.08)">hD</text><text x="0" y="0" font-size="13.5" text-anchor="middle" fill="#333" stroke="#333" stroke-width="0.3" transform="translate(805.5 471.8) scale(1 1.12)">L</text><text x="0" y="0" font-size="13.5" text-anchor="middle" fill="#333" stroke="#333" stroke-width="0.35" textLength="32" lengthAdjust="spacingAndGlyphs" transform="translate(808.6 497.9) scale(1 1.07)">L - 30</text><text x="707.6" y="524.8" font-size="16.5" text-anchor="middle" fill="#333" stroke="#333" stroke-width="0.1" transform="rotate(-90 707.6 524.8)">G</text><text x="934.6" y="258.65" font-size="13" text-anchor="middle" fill="#3a3a3a" textLength="41" lengthAdjust="spacingAndGlyphs" transform="rotate(-90 934.6 258.65)">H - 110</text><text x="984.2" y="434.4" font-size="16" text-anchor="middle" fill="#333" stroke="#333" stroke-width="0.2">g</text></g>
</svg>
</body></html>
